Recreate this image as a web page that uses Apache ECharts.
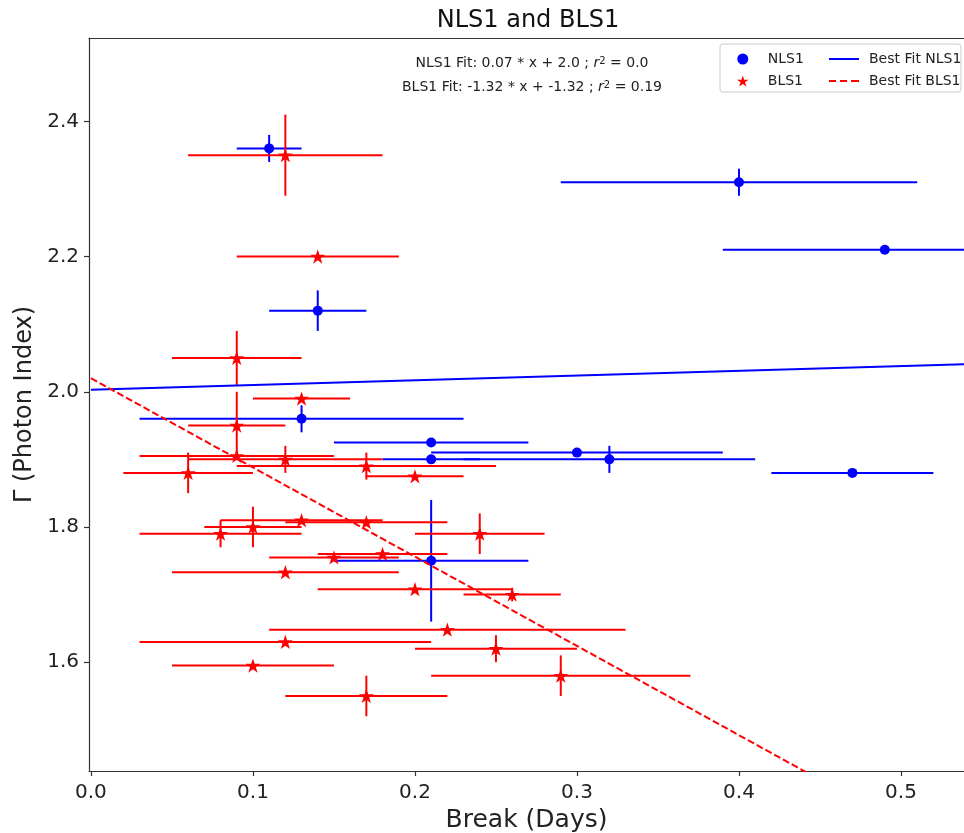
<!DOCTYPE html>
<html><head><meta charset="utf-8">
<script src="https://cdn.jsdelivr.net/npm/echarts@6/dist/echarts.min.js"></script>
<style>html,body{margin:0;padding:0;background:#fff}#c{width:964px;height:833px}</style>
</head><body><div id="c"></div>
<script>
// ---- data ----
const nlsX    = [0.11, 0.40, 0.49, 0.14, 0.13, 0.21, 0.21, 0.30, 0.32, 0.47, 0.21];
const nlsY    = [2.36, 2.31, 2.21, 2.12, 1.96, 1.925, 1.90, 1.91, 1.90, 1.88, 1.75];
const nlsXerr = [0.02, 0.11, 0.10, 0.03, 0.10, 0.06, 0.03, 0.09, 0.09, 0.05, 0.06];
const nlsYerr = [0.02, 0.02, 0.005, 0.03, 0.02, 0, 0, 0, 0.02, 0, 0.09];

const blsX    = [0.12, 0.14, 0.09, 0.13, 0.09, 0.09, 0.06, 0.12, 0.17, 0.20, 0.08, 0.10, 0.13, 0.17, 0.24, 0.18, 0.15, 0.12, 0.20, 0.26, 0.22, 0.12, 0.25, 0.10, 0.29, 0.17];
const blsY    = [2.35, 2.20, 2.05, 1.99, 1.95, 1.905, 1.88, 1.90, 1.89, 1.875, 1.79, 1.80, 1.81, 1.807, 1.79, 1.76, 1.755, 1.733, 1.708, 1.70, 1.648, 1.63, 1.62, 1.595, 1.58, 1.55];
const blsXerr = [0.06, 0.05, 0.04, 0.03, 0.03, 0.06, 0.04, 0.06, 0.08, 0.03, 0.05, 0.03, 0.05, 0.05, 0.04, 0.04, 0.04, 0.07, 0.06, 0.03, 0.11, 0.09, 0.05, 0.05, 0.08, 0.05];
const blsYerr = [0.06, 0, 0.04, 0, 0.05, 0, 0.03, 0.02, 0.02, 0, 0.02, 0.03, 0, 0, 0.03, 0, 0, 0, 0, 0.01, 0, 0, 0.02, 0, 0.03, 0.03];

// best-fit lines: [NLS1, BLS1]
const fitSlope     = [0.07, -1.32];
const fitIntercept = [2.003, 2.02];
const fitXRange    = [0, 0.6];

const xTicks = [0.0, 0.1, 0.2, 0.3, 0.4, 0.5];
const yTicks = [1.6, 1.8, 2.0, 2.2, 2.4];
const xLimits = [-0.0012, 0.5389];
const yLimits = [1.439, 2.5233];

const fitTexts = [
  ['NLS1 Fit: 0.07 * x + 2.0 ; ', ' = 0.0'],
  ['BLS1 Fit: -1.32 * x + -1.32 ; ', ' = 0.19']
];

// ---- helpers ----
function starPath() {
  const pts = [];
  for (let i = 0; i < 10; i++) {
    const r = i % 2 === 0 ? 1 : 0.382;
    const a = -Math.PI / 2 + i * Math.PI / 5;
    pts.push((r * Math.cos(a)).toFixed(4) + ' ' + (r * Math.sin(a)).toFixed(4));
  }
  return 'path://M' + pts.join(' L') + ' Z';
}
const STAR = starPath();
const SOLID_ICON = 'path://M0 0h30v2h-30z';
const DASH_ICON = 'path://M0 0h7v2h-7z M11 0h7v2h-7z M22 0h8v2h-8z';
const BLUE = '#0000ff', RED = '#ff0000';
const FONT = 'DejaVu Sans';

function errRender(color) {
  return function (params, api) {
    const x = api.value(0), y = api.value(1), xe = api.value(2), ye = api.value(3);
    const cs = params.coordSys;
    const cx = v => Math.max(cs.x, Math.min(cs.x + cs.width, v));
    const p1 = api.coord([x - xe, y]), p2 = api.coord([x + xe, y]);
    const children = [{
      type: 'line',
      shape: { x1: cx(p1[0]), y1: p1[1], x2: cx(p2[0]), y2: p2[1] },
      style: { stroke: color, lineWidth: 2 }
    }];
    if (ye > 0) {
      const q1 = api.coord([x, y - ye]), q2 = api.coord([x, y + ye]);
      children.push({
        type: 'line',
        shape: { x1: q1[0], y1: q1[1], x2: q2[0], y2: q2[1] },
        style: { stroke: color, lineWidth: 2 }
      });
    }
    return { type: 'group', children };
  };
}

const nlsData = nlsX.map((x, i) => [x, nlsY[i], nlsXerr[i], nlsYerr[i]]);
const blsData = blsX.map((x, i) => [x, blsY[i], blsXerr[i], blsYerr[i]]);
const fitLine = k => fitXRange.map(x => [x, fitSlope[k] * x + fitIntercept[k]]);

const chart = echarts.init(document.getElementById('c'), null, { renderer: 'canvas' });

const axisLineStyle = { color: '#333', width: 1.2 };
const legendText = { fontSize: 14, color: '#222', lineHeight: 14, padding: [0, 0, 0, 5], fontFamily: FONT };
const richFit = {
  a: { fontSize: 14, fontFamily: FONT, fill: '#222' },
  i: { fontSize: 14, fontStyle: 'italic', fontFamily: FONT, fill: '#222' },
  s: { fontSize: 10, fontFamily: FONT, fill: '#222', verticalAlign: 'top' }
};

chart.setOption({
  animation: false,
  backgroundColor: '#fff',
  textStyle: { fontFamily: FONT },
  grid: { left: 89, right: 0, top: 38, bottom: 62, containLabel: false, outerBoundsMode: 'none' },
  xAxis: [{
    type: 'value', min: xLimits[0], max: xLimits[1],
    axisLine: { show: true, onZero: false, lineStyle: axisLineStyle },
    axisTick: { show: true, length: 5, inside: false, customValues: xTicks, lineStyle: axisLineStyle },
    axisLabel: { customValues: xTicks, formatter: v => Number(v).toFixed(1), fontSize: 20, color: '#222', margin: 12, fontFamily: FONT },
    splitLine: { show: false },
    name: 'Break (Days)', nameLocation: 'middle', nameGap: 35,
    nameTextStyle: { fontSize: 25, color: '#222', fontFamily: FONT }
  }, {
    type: 'value', position: 'top', min: xLimits[0], max: xLimits[1],
    axisLine: { show: true, onZero: false, lineStyle: axisLineStyle },
    axisTick: { show: false }, axisLabel: { show: false }, splitLine: { show: false }
  }],
  yAxis: [{
    type: 'value', min: yLimits[0], max: yLimits[1],
    axisLine: { show: true, onZero: false, lineStyle: axisLineStyle },
    axisTick: { show: true, length: 5, inside: false, customValues: yTicks, lineStyle: axisLineStyle },
    axisLabel: { customValues: yTicks, formatter: v => Number(v).toFixed(1), fontSize: 20, color: '#222', margin: 10, fontFamily: FONT },
    splitLine: { show: false },
    name: 'Γ (Photon Index)', nameLocation: 'middle', nameGap: 52, nameRotate: 90,
    nameTextStyle: { fontSize: 24, color: '#222', fontFamily: FONT }
  }],
  legend: [{
    orient: 'vertical', left: 737, top: 52, padding: 0, itemWidth: 30, itemHeight: 11, itemGap: 8,
    textStyle: legendText,
    data: [{ name: 'NLS1', icon: 'circle' }, { name: 'BLS1', icon: STAR }]
  }, {
    orient: 'vertical', left: 829, top: 52, padding: 0, itemWidth: 30, itemHeight: 11, itemGap: 8,
    textStyle: legendText,
    data: [{ name: 'Best Fit NLS1', icon: SOLID_ICON }, { name: 'Best Fit BLS1', icon: DASH_ICON }]
  }],
  graphic: [
    { type: 'text', x: 528, y: 21, style: { text: 'NLS1 and BLS1', font: '24px "DejaVu Sans"', fill: '#111', textAlign: 'center', textVerticalAlign: 'middle' } },
    { type: 'text', x: 532, y: 63, style: {
        text: '{a|' + fitTexts[0][0] + '}{i|r}{s|2}{a|' + fitTexts[0][1] + '}',
        textAlign: 'center', textVerticalAlign: 'middle', rich: richFit } },
    { type: 'text', x: 532, y: 87, style: {
        text: '{a|' + fitTexts[1][0] + '}{i|r}{s|2}{a|' + fitTexts[1][1] + '}',
        textAlign: 'center', textVerticalAlign: 'middle', rich: richFit } },
    { type: 'rect', shape: { x: 720, y: 44, width: 241, height: 48, r: 3 }, style: { fill: 'rgba(255,255,255,0.8)', stroke: '#cccccc', lineWidth: 1 }, z: 3 }
  ],
  series: [
    { name: 'NLS1 err', type: 'custom', renderItem: errRender(BLUE), data: nlsData, encode: { x: 0, y: 1 }, z: 2, silent: true },
    { name: 'NLS1', type: 'scatter', data: nlsData.map(d => [d[0], d[1]]), symbol: 'circle', symbolSize: 10, itemStyle: { color: BLUE, opacity: 1 }, z: 3 },
    { name: 'BLS1 err', type: 'custom', renderItem: errRender(RED), data: blsData, encode: { x: 0, y: 1 }, z: 4, silent: true },
    { name: 'BLS1', type: 'scatter', data: blsData.map(d => [d[0], d[1]]), symbol: STAR, symbolSize: 15, symbolKeepAspect: true, itemStyle: { color: RED, opacity: 1 }, z: 5 },
    { name: 'Best Fit NLS1', type: 'line', data: fitLine(0), symbol: 'none', lineStyle: { color: BLUE, width: 2 }, itemStyle: { color: BLUE }, z: 6, clip: true },
    { name: 'Best Fit BLS1', type: 'line', data: fitLine(1), symbol: 'none', lineStyle: { color: RED, width: 2, type: [7, 3] }, itemStyle: { color: RED }, z: 6, clip: true }
  ]
});
</script>
</body></html>
